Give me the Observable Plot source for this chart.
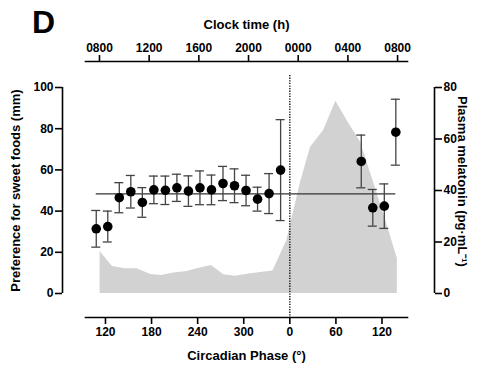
<!DOCTYPE html>
<html>
<head>
<meta charset="utf-8">
<script src="https://cdn.jsdelivr.net/npm/d3@7"></script>
<script src="https://cdn.jsdelivr.net/npm/@observablehq/plot@0.6"></script>
<style>
  html, body { margin: 0; padding: 0; background: #fff; }
</style>
</head>
<body>
<div id="chart"></div>
<script>
// Preference for sweet foods (mm) vs circadian phase (unwrapped degrees: 360 = 0°)
const phase = [108, 123, 138, 153, 168, 183, 198, 213, 228, 243, 258, 273, 288, 303, 318, 333, 348, 453, 468, 483, 498];
const preference = [31.4, 32.5, 46.5, 49.4, 44.2, 50.3, 50.1, 51.3, 49.7, 51.3, 50.3, 53.4, 52.3, 50.0, 45.8, 48.5, 59.9, 64.1, 41.6, 42.4, 78.3];
const prefError = [8.9, 7.5, 7.3, 7.9, 7.2, 6.7, 6.9, 6.6, 7.4, 8.2, 7.2, 8.3, 8.2, 7.4, 5.8, 9.7, 24.5, 12.8, 8.9, 10.8, 16.0];
const meanPreference = 48.4;

// Plasma melatonin (pg·mL-1) vs circadian phase
const melPhase = [113, 129, 146, 161, 179, 193, 209, 226, 242, 258, 274, 289, 309, 338, 356, 374, 387, 404, 420, 437, 452, 469, 485, 500];
const melatonin = [16.3, 10.5, 9.6, 9.6, 7.4, 7.0, 8.0, 8.5, 9.8, 10.9, 7.3, 6.7, 7.7, 8.7, 20.5, 43.2, 56.8, 63.3, 74.7, 65.9, 58.8, 43.2, 28.3, 13.5];

// Axis ticks
const phaseTicks = [120, 180, 240, 300, 360, 420, 480];
const clockHours = [8, 12, 16, 20, 24, 28, 32];
const clockLabels = ["0800", "1200", "1600", "2000", "0000", "0400", "0800"];
const prefTicks = [0, 20, 40, 60, 80, 100];
const melTicks = [0, 20, 40, 60, 80];

// scale relations
const melToPref = 100 / 80;               // right axis 0–80 maps onto left axis 0–100
const clockToPhase = h => 112.2 + 16.17 * (h - 8); // separate top axis mapping
const xMin = 94, xMax = 513.2;

const prefData = phase.map((p, i) => ({p, v: preference[i], lo: preference[i] - prefError[i], hi: preference[i] + prefError[i]}));
const melData = melPhase.map((p, i) => ({p, m: melatonin[i]}));

const font = "Liberation Sans, Arial, Helvetica, sans-serif";

const chart = Plot.plot({
  width: 482,
  height: 367,
  marginTop: 61,
  marginBottom: 50,
  marginLeft: 85,
  marginRight: 75,
  style: {fontFamily: font, fontWeight: "bold", fontSize: "12px", color: "#000", background: "#fff"},
  x: {domain: [xMin, xMax], axis: null},
  y: {domain: [0, 100], range: [293, 87], axis: null},
  marks: [
    // melatonin area
    Plot.areaY(melData, {x: "p", y: d => d.m * melToPref, fill: "#d2d2d2", curve: "linear"}),
    // DLMO dotted line
    Plot.ruleX([360], {stroke: "#000", strokeWidth: 1.3, strokeDasharray: "1.3,1.3", insetTop: 14}),
    // mean line
    Plot.ruleY([meanPreference], {x1: phase[0], x2: phase[phase.length - 1], stroke: "#333", strokeWidth: 1.2}),
    // error bars
    Plot.ruleX(prefData, {x: "p", y1: "lo", y2: "hi", stroke: "#444", strokeWidth: 1.3}),
    Plot.ruleY(prefData, {y: "hi", x1: "p", x2: "p", insetLeft: -4.5, insetRight: -4.5, stroke: "#444", strokeWidth: 1.3}),
    Plot.ruleY(prefData, {y: "lo", x1: "p", x2: "p", insetLeft: -4.5, insetRight: -4.5, stroke: "#444", strokeWidth: 1.3}),
    // dots
    Plot.dot(prefData, {x: "p", y: "v", r: 4.8, fill: "#000", stroke: "none"}),

    // bottom axis (circadian phase)
    Plot.frame({anchor: "bottom", stroke: "#000", strokeWidth: 1.6}),
    Plot.axisX({anchor: "bottom", ticks: phaseTicks, tickFormat: d => String(d % 360), tickSize: 7, tickPadding: 3, strokeWidth: 1.6, fontWeight: "bold", fontSize: 12, label: null}),
    Plot.text(["Circadian Phase (°)"], {frameAnchor: "bottom", textAnchor: "middle", dy: 38, fontSize: 13, fontWeight: "bold", lineAnchor: "middle"}),

    // top axis (clock time)
    Plot.frame({anchor: "top", stroke: "#000", strokeWidth: 1.6}),
    Plot.axisX({anchor: "top", ticks: clockHours.map(clockToPhase), tickFormat: (d, i) => clockLabels[i], tickSize: 7, tickPadding: 3, strokeWidth: 1.6, fontWeight: "bold", fontSize: 12, label: null}),
    Plot.text(["Clock time (h)"], {frameAnchor: "top", textAnchor: "middle", dy: -37, fontSize: 13, fontWeight: "bold", lineAnchor: "middle"}),

    // left axis (preference)
    Plot.ruleX([xMin], {y1: 0, y2: 100, dx: -23, stroke: "#000", strokeWidth: 1.6}),
    Plot.axisY({anchor: "left", dx: -23, ticks: prefTicks, tickSize: 7, tickPadding: 2, strokeWidth: 1.6, fontWeight: "bold", fontSize: 12, label: null}),
    Plot.text(["Preference for sweet foods (mm)"], {frameAnchor: "left", textAnchor: "middle", dx: -70, dy: 1, rotate: -90, fontSize: 13, fontWeight: "bold", lineAnchor: "middle"}),

    // right axis (melatonin)
    Plot.ruleX([xMax], {y1: 0, y2: 100, dx: 27, stroke: "#000", strokeWidth: 1.6}),
    Plot.axisY({anchor: "right", dx: 27, ticks: melTicks.map(m => m * melToPref), tickFormat: d => String(Math.round(d / melToPref)), tickSize: 7, tickPadding: 2, strokeWidth: 1.6, fontWeight: "bold", fontSize: 12, label: null}),
    Plot.text(["Plasma melatonin (pg·mL⁻¹)"], {frameAnchor: "right", textAnchor: "middle", dx: 55, dy: -8, rotate: 90, fontSize: 13, fontWeight: "bold", lineAnchor: "middle"}),

    // panel letter
    Plot.text(["D"], {frameAnchor: "top-left", textAnchor: "middle", dx: -42, dy: -39, fontSize: 32, fontWeight: "bold", lineAnchor: "middle"})
  ]
});
document.getElementById("chart").appendChild(chart);
</script>
</body>
</html>
